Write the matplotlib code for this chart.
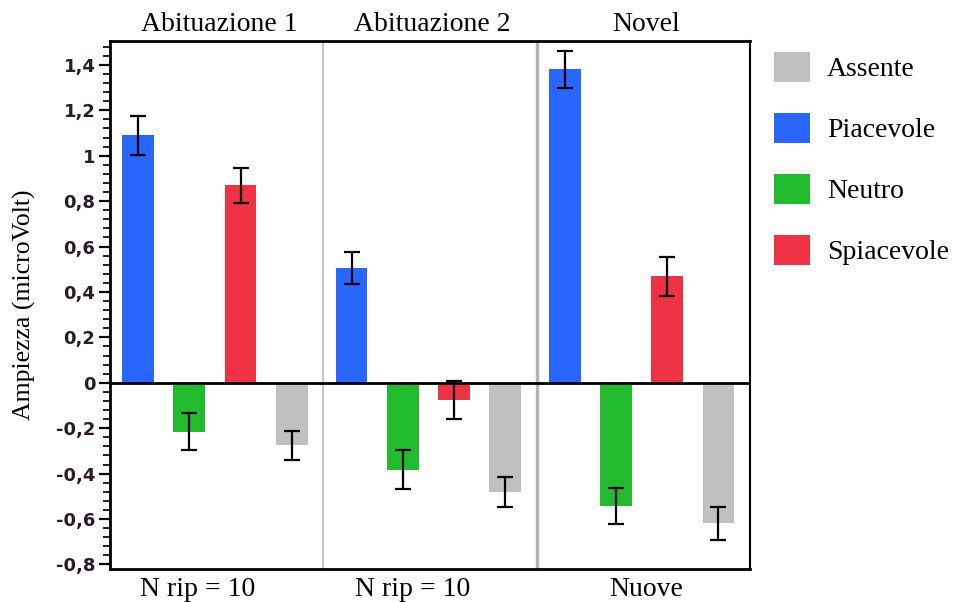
import numpy as np
import matplotlib
matplotlib.use('Agg')
import matplotlib.pyplot as plt
from matplotlib.patches import Patch
from matplotlib.ticker import MultipleLocator, FuncFormatter
import matplotlib.transforms as mtransforms

groups = ['Abituazione 1', 'Abituazione 2', 'Novel']
bottom_labels = ['N rip = 10', 'N rip = 10', 'Nuove']
conditions = ['Piacevole', 'Neutro', 'Spiacevole', 'Assente']

piacevole = [1.09, 0.505, 1.38]
neutro = [-0.215, -0.382, -0.544]
spiacevole = [0.869, -0.075, 0.469]
assente = [-0.276, -0.483, -0.619]

err_piacevole = [0.085, 0.07, 0.083]
err_neutro = [0.08, 0.085, 0.08]
err_spiacevole = [0.077, 0.085, 0.085]
err_assente = [0.062, 0.066, 0.072]

colors = {'Piacevole': '#2866FF', 'Neutro': '#22BB2E',
          'Spiacevole': '#EE3344', 'Assente': '#C0C0C0'}

values = [piacevole, neutro, spiacevole, assente]
errors = [err_piacevole, err_neutro, err_spiacevole, err_assente]

serif = 'Liberation Serif'

fig = plt.figure(figsize=(9.54, 6.02), dpi=100)
ax = fig.add_axes([0.1153, 0.0548, 0.6709, 0.8771])

gw = 12.5 / 3
for i, cond in enumerate(conditions):
    xs = [g * gw + 0.55 + i for g in range(3)]
    ax.bar(xs, values[i], width=0.62, color=colors[cond], zorder=2)
    ax.errorbar(xs, values[i], yerr=errors[i], fmt='none', ecolor='black',
                elinewidth=1.6, capsize=6, capthick=1.6, zorder=4)

ax.axhline(0, color='black', lw=2, zorder=3)
ax.axvline(gw, color='#c8c8c8', lw=1.5, zorder=1)
ax.axvline(2 * gw, color='#b4b4b4', lw=2.5, zorder=1)

ax.set_xlim(0, 12.5)
ax.set_ylim(-0.82, 1.505)
ax.set_xticks([])
ax.yaxis.set_major_locator(MultipleLocator(0.2))
ax.yaxis.set_minor_locator(MultipleLocator(0.04))


def fmt(v, pos):
    s = ('%.1f' % v).rstrip('0').rstrip('.')
    if s in ('-0', ''):
        s = '0'
    return s.replace('.', ',')


ax.yaxis.set_major_formatter(FuncFormatter(fmt))
ax.tick_params(axis='y', which='major', length=8, width=1.6, labelsize=13,
               labelcolor='#2a1a2a', pad=2.5)
ax.tick_params(axis='y', which='minor', length=5, width=1.2)
for lbl in ax.get_yticklabels():
    lbl.set_fontfamily('DejaVu Sans')
    lbl.set_fontweight('bold')

for side in ['left', 'top', 'bottom']:
    ax.spines[side].set_linewidth(2)
ax.spines['right'].set_linewidth(1.5)

ax.set_ylabel('Ampiezza (microVolt)', fontfamily=serif, fontsize=18.5)
ax.yaxis.set_label_coords(-0.116, 0.5)

# bottom captions sit a little left of the group centres in the original
label_shift = [-0.37, -0.33, 0.06]

trans = mtransforms.blended_transform_factory(ax.transData, ax.transAxes)
for g in range(3):
    cx = g * gw + gw / 2
    ax.text(cx + 0.05, 1.008, groups[g], transform=trans, ha='center', va='bottom',
            fontfamily=serif, fontsize=20)
    ax.text(cx + label_shift[g], -0.015, bottom_labels[g], transform=trans,
            ha='center', va='top', fontfamily=serif, fontsize=20)

order = ['Assente', 'Piacevole', 'Neutro', 'Spiacevole']
handles = [Patch(facecolor=colors[c], edgecolor='none', label=c) for c in order]
fig.legend(handles=handles, loc='upper left', bbox_to_anchor=(0.811, 0.914),
           frameon=False, prop={'family': serif, 'size': 20},
           borderpad=0, borderaxespad=0,
           handlelength=1.3, handleheight=1.3, labelspacing=1.1,
           handletextpad=0.62)

plt.savefig('out.png', dpi=100)
